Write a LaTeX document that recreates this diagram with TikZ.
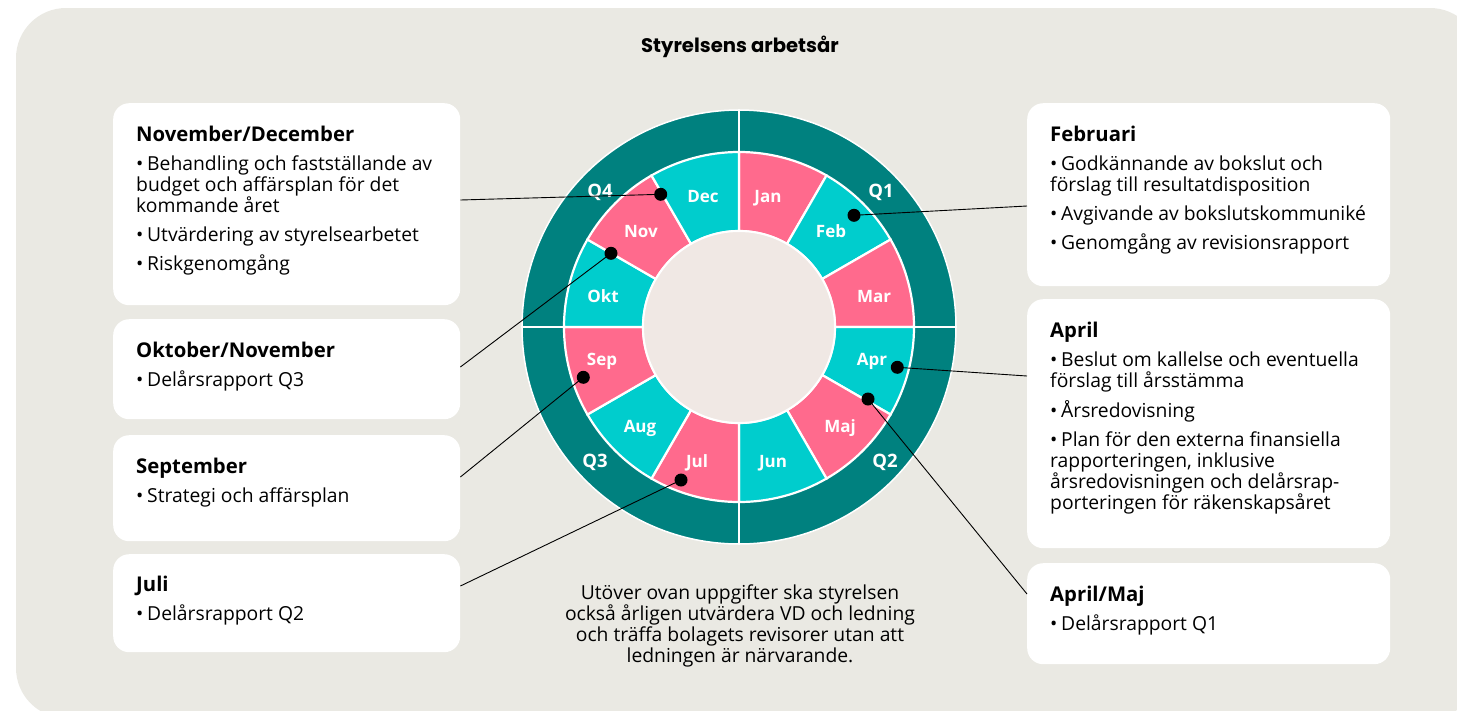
\documentclass[tikz,border=0pt]{standalone}
\usepackage{fontspec}
\setmainfont{Open Sans}
\newfontfamily\titlefont{Poppins}
\definecolor{bg}{HTML}{EAE9E3}
\definecolor{hub}{HTML}{F0E8E4}
\definecolor{qdark}{HTML}{00817F}
\definecolor{mcyan}{HTML}{00CDCD}
\definecolor{mpink}{HTML}{FF6A8D}
\newcommand\hd[1]{{\bfseries\fontsize{20.3}{21}\selectfont #1}\par\vspace{8pt}}
\newcommand\itm[1]{\par\hangindent=11pt\hangafter=1\noindent\makebox[11pt][l]{•}#1\par\vspace{8pt}}
\newcommand\txt[1]{\begin{minipage}[t]{340pt}\fontsize{19.3}{21}\selectfont\raggedright #1\end{minipage}}
\tikzset{
  card/.style={fill=white, draw=none, rounded corners=16pt, anchor=north west, inner sep=0},
  cardtext/.style={anchor=base west, inner sep=0},
  month/.style={anchor=base, inner sep=0, text=white, font=\bfseries\fontsize{17}{17}\selectfont},
  quarter/.style={anchor=base, inner sep=0, text=white, font=\bfseries\fontsize{18.5}{18.5}\selectfont},
  dot/.style={circle, fill=black, inner sep=0, minimum size=13pt},
  conn/.style={draw=black, line width=0.9pt}
}
\begin{document}
\begin{tikzpicture}[x=1pt, y=-1pt]
\useasboundingbox (0,0) rectangle (1457,710);
% background panel
\fill[bg, rounded corners=50pt] (16,8) rectangle (1480,718);

% title
\node[anchor=base, inner sep=0] (title) at (740,52) {\titlefont\bfseries\fontsize{19.6}{19.6}\selectfont Styrelsens arbetsår};

% the year wheel
\begin{scope}[shift={(739,327)}, y=1pt]
  \fill[qdark] (0,0) circle (217pt);
  \draw[white, line width=1.5pt] (0,0) circle (217pt);
  \foreach \i in {0,...,11}{
    \pgfmathsetmacro\aa{90-30*\i}
    \pgfmathsetmacro\ab{60-30*\i}
    \pgfmathparse{mod(\i,2)==0 ? "mpink" : "mcyan"}
    \edef\col{\pgfmathresult}
    \filldraw[fill=\col, draw=white, line width=2.2pt]
      (\aa:175pt) arc[start angle=\aa, end angle=\ab, radius=175pt]
      -- (\ab:96pt) arc[start angle=\ab, end angle=\aa, radius=96pt] -- cycle;
  }
  \filldraw[fill=hub, draw=white, line width=2pt] (0,0) circle (96pt);
  \foreach \a in {0,90,180,270}
    \draw[white, line width=2.5pt] (\a:96pt) -- (\a:218pt);
\end{scope}

% month and quarter labels
\node[month] (mJan) at (768,202) {Jan};
\node[month] (mFeb) at (831,237) {Feb};
\node[month] (mMar) at (874,302) {Mar};
\node[month] (mApr) at (872,365) {Apr};
\node[month] (mMaj) at (840,432) {Maj};
\node[month] (mJun) at (773,467) {Jun};
\node[month] (mJul) at (697,467) {Jul};
\node[month] (mAug) at (640,432) {Aug};
\node[month] (mSep) at (602,365) {Sep};
\node[month] (mOkt) at (603,302) {Okt};
\node[month] (mNov) at (641,237) {Nov};
\node[month] (mDec) at (703,202) {Dec};
\node[quarter] (q1) at (881,197) {Q1};
\node[quarter] (q2) at (885,467) {Q2};
\node[quarter] (q3) at (595,467) {Q3};
\node[quarter] (q4) at (600,197) {Q4};

% cards
\node[card, minimum width=347pt, minimum height=202pt] (bND) at (113,103) {};
\node[card, minimum width=347pt, minimum height=100pt] (bON) at (113,319) {};
\node[card, minimum width=347pt, minimum height=106pt] (bSE) at (113,435) {};
\node[card, minimum width=347pt, minimum height=98pt]  (bJU) at (113,554) {};
\node[card, minimum width=363pt, minimum height=183pt] (bFE) at (1027,103) {};
\node[card, minimum width=363pt, minimum height=249pt] (bAP) at (1027,299) {};
\node[card, minimum width=363pt, minimum height=101pt] (bAM) at (1027,563) {};

% markers on the wheel
\node[dot] (dND) at (660.7,194.3) {};
\node[dot] (dON) at (611,253.3) {};
\node[dot] (dSE) at (583.3,377.3) {};
\node[dot] (dJU) at (681,480) {};
\node[dot] (dFE) at (854,215.3) {};
\node[dot] (dAP) at (897.3,367.3) {};
\node[dot] (dAM) at (868,399) {};

% connectors
\draw[conn] (dND.center) -- ([yshift=-97pt]bND.north east);
\draw[conn] (dON.center) -- ([yshift=-48pt]bON.north east);
\draw[conn] (dSE.center) -- ([yshift=-42pt]bSE.north east);
\draw[conn] (dJU.center) -- ([yshift=-32pt]bJU.north east);
\draw[conn] (dFE.center) -- ([yshift=-103pt]bFE.north west);
\draw[conn] (dAP.center) -- ([yshift=-77pt]bAP.north west);
\draw[conn] (dAM.center) -- ([yshift=-31pt]bAM.north west);

% card texts
\node[cardtext] (tND) at (136,141) {\txt{\hd{November/December}
  \itm{Behandling och fastställande av\\budget och affärsplan för det\\kommande året}
  \itm{Utvärdering av styrelsearbetet}
  \itm{Riskgenomgång}}};
\node[cardtext] (tON) at (136,357) {\txt{\hd{Oktober/November}\itm{Delårsrapport Q3}}};
\node[cardtext] (tSE) at (136,473) {\txt{\hd{September}\itm{Strategi och affärsplan}}};
\node[cardtext] (tJU) at (136,591) {\txt{\hd{Juli}\itm{Delårsrapport Q2}}};
\node[cardtext] (tFE) at (1050,141) {\txt{\hd{Februari}
  \itm{Godkännande av bokslut och\\förslag till resultatdisposition}
  \itm{Avgivande av bokslutskommuniké}
  \itm{Genomgång av revisionsrapport}}};
\node[cardtext] (tAP) at (1050,337) {\txt{\hd{April}
  \itm{Beslut om kallelse och eventuella\\förslag till årsstämma}
  \itm{Årsredovisning}
  \itm{Plan för den externa finansiella\\rapporteringen, inklusive\\årsredovisningen och delårsrap-\\porteringen för räkenskapsåret}}};
\node[cardtext] (tAM) at (1050,601) {\txt{\hd{April/Maj}\itm{Delårsrapport Q1}}};

% note under the wheel
\node[anchor=base, inner sep=0] (note) at (740,599) {\begin{minipage}[t]{460pt}\centering\fontsize{19.3}{21.2}\selectfont
  Utöver ovan uppgifter ska styrelsen\\
  också årligen utvärdera VD och ledning\\
  och träffa bolagets revisorer utan att\\
  ledningen är närvarande.\end{minipage}};
\end{tikzpicture}
\end{document}
